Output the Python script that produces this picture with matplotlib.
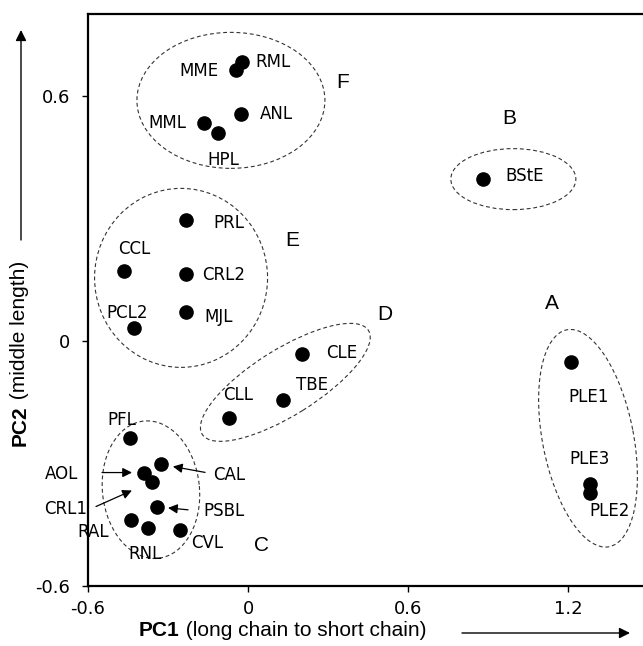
import matplotlib
matplotlib.use("Agg")
import matplotlib.pyplot as plt
from matplotlib.patches import Ellipse
from matplotlib.transforms import ScaledTranslation

# ---------------- data ----------------
names = ["RML", "MME", "ANL", "MML", "HPL", "BStE", "PRL", "CCL", "CRL2", "MJL",
         "PCL2", "CLE", "TBE", "CLL", "PLE1", "PLE3", "PLE2", "PFL", "CAL", "AOL",
         "CRL1", "PSBL", "RAL", "RNL", "CVL"]
pc1 = [-0.022, -0.045, -0.026, -0.165, -0.112, 0.881, -0.232, -0.465, -0.232, -0.232,
       -0.427, 0.202, 0.131, -0.071, 1.211, 1.282, 1.282, -0.442, -0.326, -0.390,
       -0.360, -0.341, -0.439, -0.375, -0.255]
pc2 = [0.684, 0.664, 0.556, 0.534, 0.511, 0.398, 0.297, 0.172, 0.165, 0.071,
       0.032, -0.032, -0.143, -0.189, -0.052, -0.349, -0.371, -0.238, -0.302, -0.322,
       -0.344, -0.406, -0.438, -0.457, -0.462]

x_ticks = [-0.6, 0, 0.6, 1.2]
x_ticklabels = ["-0.6", "0", "0.6", "1.2"]
y_ticks = [-0.6, 0, 0.6]
y_ticklabels = ["-0.6", "0", "0.6"]

group_names = ["F", "B", "E", "D", "A", "C"]
group_x = [0.356, 0.979, 0.165, 0.514, 1.140, 0.050]
group_y = [0.634, 0.545, 0.246, 0.066, 0.093, -0.500]

# ---------------- layout / style ----------------
# label offsets (pixels, y up) relative to the point
label_off = {
    "RML": (31, 0), "MME": (-37, -1), "ANL": (35, 0), "MML": (-37, 0), "HPL": (5, -27),
    "BStE": (42, 3), "PRL": (43, -3), "CCL": (10, 22), "CRL2": (37, -1), "MJL": (32, -5),
    "PCL2": (-7, 15), "CLE": (40, 1), "TBE": (29, 15), "CLL": (9, 23), "PLE1": (18, -35),
    "PLE3": (0, 25), "PLE2": (20, -18), "PFL": (-8, 18), "CAL": (68, -11), "AOL": (-82, -1),
    "CRL1": (-86, -27), "PSBL": (67, -4), "RAL": (-38, -12), "RNL": (-3, -26), "CVL": (27, -13),
}
# arrows: (start offset px, shrink at the point end in px)
arrow_spec = {
    "AOL": ((-42, 0), 12),
    "CAL": ((44, -8), 12),
    "CRL1": ((-56, -25), 22),
    "PSBL": ((31, -3), 11),
}
# ellipses: center (data), width/height (px), angle (deg)
ell_cx = [-0.064, 0.995, -0.251, 0.140, 1.275, -0.364]
ell_cy = [0.590, 0.397, 0.155, -0.101, -0.238, -0.364]
ell_w = [188, 125, 173, 196, 221, 138]
ell_h = [136, 61, 179, 66, 91, 97]
ell_a = [0, 0, 0, 32, 101, 96]

W, H = 643, 646
fig = plt.figure(figsize=(W / 100, H / 100), dpi=100)
ax = fig.add_axes([88 / W, (H - 586) / H, (W - 88) / W, (586 - 14) / H])
ax.set_xlim(-0.6, -0.6 + (W - 88) / 266.67)
ax.set_ylim(-0.6, 0.6 + (96 - 14) / 406.67)

for s in ["left", "top", "bottom"]:
    ax.spines[s].set_linewidth(1.6)
ax.spines["right"].set_visible(False)

ax.set_xticks(x_ticks)
ax.set_xticklabels(x_ticklabels)
ax.set_yticks(y_ticks)
ax.set_yticklabels(y_ticklabels)
ax.tick_params(direction="out", length=4, width=1, labelsize=13)
ax.tick_params(axis="y", pad=9)
ax.tick_params(axis="x", pad=6)
for t in ax.get_xticklabels() + ax.get_yticklabels():
    t.set_fontfamily("DejaVu Sans")

ax.plot(pc1, pc2, "o", color="black", ms=9.5, zorder=3, clip_on=False)

for n, x, y in zip(names, pc1, pc2):
    dx, dy = label_off[n]
    ax.annotate(n, (x, y), xytext=(dx, dy), textcoords="offset pixels",
                ha="center", va="center", fontsize=12, family="DejaVu Sans")
    if n in arrow_spec:
        (sx, sy), shr = arrow_spec[n]
        ax.annotate("", (x, y), xytext=(sx, sy), textcoords="offset pixels",
                    arrowprops=dict(arrowstyle="-|>", color="black", lw=0.9,
                                    mutation_scale=14, shrinkA=0, shrinkB=shr * 0.72))

for g, x, y in zip(group_names, group_x, group_y):
    ax.text(x, y, g, ha="center", va="center", fontsize=15, family="Liberation Sans")

for cx, cy, w, h, a in zip(ell_cx, ell_cy, ell_w, ell_h, ell_a):
    tr = fig.dpi_scale_trans + ScaledTranslation(cx, cy, ax.transData)
    e = Ellipse((0, 0), w / 100, h / 100, angle=a, transform=tr, fill=False,
                edgecolor="#333333", lw=0.8, linestyle=(0, (3.5, 2.5)), zorder=2)
    ax.add_patch(e)

# axis labels (bold part + normal part)
fig.canvas.draw()
r = fig.canvas.get_renderer()
lab_fs = 15
t1 = fig.text(139 / W, 1 - 631 / H, "PC1", fontsize=lab_fs, fontweight="bold",
              family="Liberation Sans", ha="left", va="center")
bb = t1.get_window_extent(r)
fig.text(bb.x1 / W, 1 - 631 / H, " (long chain to short chain)", fontsize=lab_fs,
         family="Liberation Sans", ha="left", va="center")
ax.annotate("", xy=(630, H - 633), xytext=(462, H - 633), xycoords="figure pixels",
            textcoords="figure pixels", annotation_clip=False,
            arrowprops=dict(arrowstyle="-|>", color="black", lw=1.0, mutation_scale=16,
                            shrinkA=0, shrinkB=0))

t2 = fig.text(20 / W, 1 - 446 / H, "PC2", fontsize=lab_fs, fontweight="bold",
              family="Liberation Sans", ha="center", va="bottom", rotation=90)
bb2 = t2.get_window_extent(r)
fig.text(20 / W, bb2.y1 / H, " (middle length)", fontsize=lab_fs,
         family="Liberation Sans", ha="center", va="bottom", rotation=90)
ax.annotate("", xy=(21, H - 30), xytext=(21, H - 240), xycoords="figure pixels",
            textcoords="figure pixels", annotation_clip=False,
            arrowprops=dict(arrowstyle="-|>", color="black", lw=1.0, mutation_scale=16,
                            shrinkA=0, shrinkB=0))

fig.savefig("out.png", dpi=100)
